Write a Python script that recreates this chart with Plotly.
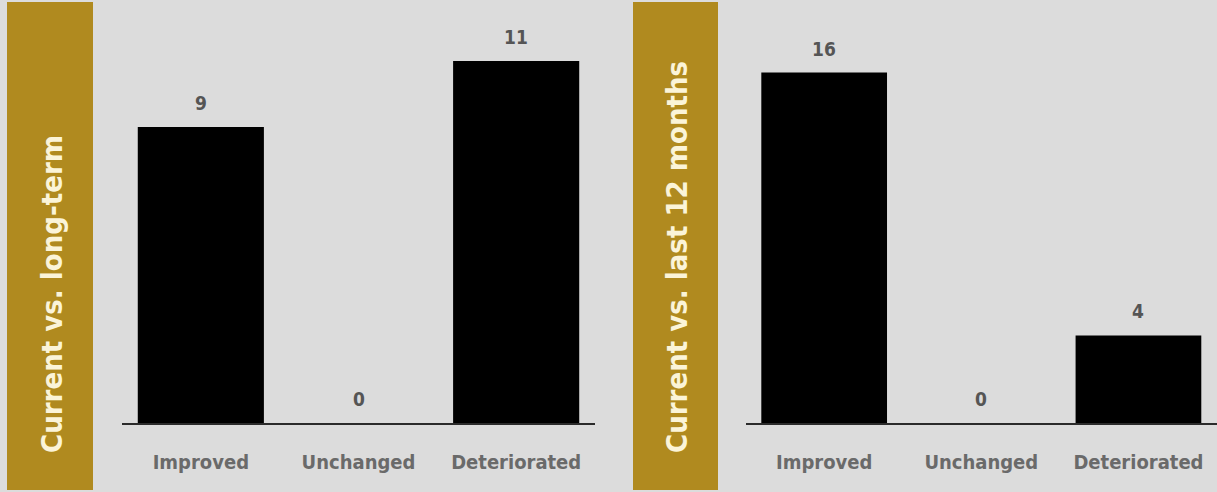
import plotly.graph_objects as go

categories = ["Improved", "Unchanged", "Deteriorated"]
long_term_values = [9, 0, 11]
last12_values = [16, 0, 4]
panel_titles = ["Current vs. long-term", "Current vs. last 12 months"]

W, H = 1217, 492
BG = "#dcdcdc"
GOLD = "#b08a1f"
FONT = "Liberation Sans Narrow, DejaVu Sans Condensed, Arial Narrow, sans-serif"

fig = go.Figure()
fig.add_trace(go.Bar(x=categories, y=long_term_values, marker_color="#000000",
                     marker_line_width=0, xaxis="x", yaxis="y", hoverinfo="skip"))
fig.add_trace(go.Bar(x=categories, y=last12_values, marker_color="#000000",
                     marker_line_width=0, xaxis="x2", yaxis="y2", hoverinfo="skip"))

base_px = 423
bottom = H - base_px

ann = []
for xa, ya, vals in [("x", "y", long_term_values), ("x2", "y2", last12_values)]:
    for c, v in zip(categories, vals):
        ann.append(dict(x=c, y=v, xref=xa, yref=ya, text=str(v), showarrow=False,
                        yanchor="bottom", yshift=11,
                        font=dict(family=FONT, size=19, color="#555555", weight="bold")))

def py(p):
    return (base_px - p) / base_px

shapes = []
for (x0, x1), title, tx in [((7, 93), panel_titles[0], 52), ((633, 718), panel_titles[1], 677)]:
    shapes.append(dict(type="rect", xref="paper", yref="paper",
                       x0=x0 / W, x1=x1 / W, y0=py(490), y1=py(2),
                       fillcolor=GOLD, line_width=0, layer="below"))
    ann.append(dict(x=tx / W, y=py(455), xref="paper", yref="paper", text=title,
                    textangle=-90, showarrow=False, xanchor="center", yanchor="bottom",
                    font=dict(family=FONT, size=29, color="#fbf4d8", weight="bold")))

axis_common = dict(type="category", showline=True, linecolor="#2b2b2b", linewidth=1.5,
                   ticks="outside", ticklen=20, tickcolor="rgba(0,0,0,0)",
                   showgrid=False, zeroline=False, fixedrange=True,
                   tickfont=dict(family=FONT, size=20, color="#6a6a6a", weight="bold"))

fig.update_layout(
    width=W, height=H, autosize=False,
    paper_bgcolor=BG, plot_bgcolor=BG,
    margin=dict(l=0, r=0, t=0, b=bottom, pad=0),
    showlegend=False, bargap=0.2,
    xaxis=dict(domain=[122 / W, 595 / W], anchor="y", **axis_common),
    xaxis2=dict(domain=[745.6 / W, 1.0], anchor="y2", **axis_common),
    yaxis=dict(range=[0, base_px / 32.9], visible=False, fixedrange=True),
    yaxis2=dict(range=[0, base_px / 21.9], visible=False, fixedrange=True, anchor="x2"),
    annotations=ann, shapes=shapes,
)

fig.write_html("out.html", config={"displayModeBar": False},
               post_script="document.body.style.margin='0';document.body.style.overflow='hidden';")
